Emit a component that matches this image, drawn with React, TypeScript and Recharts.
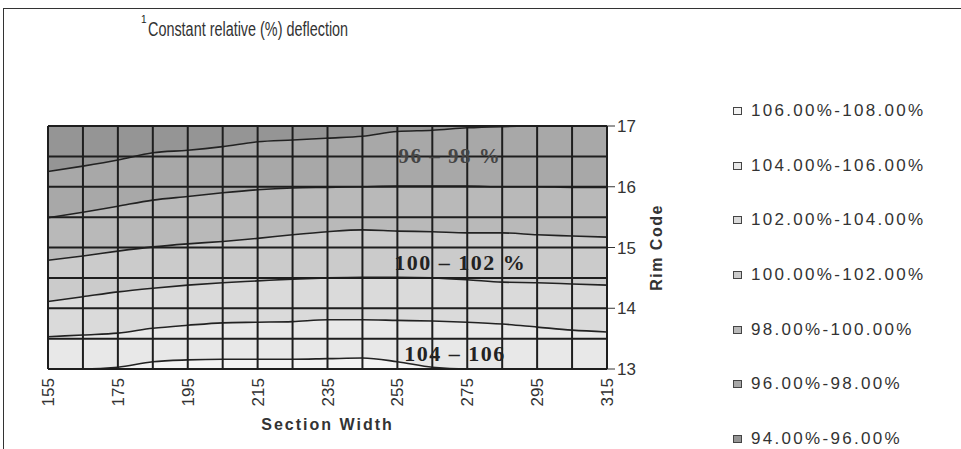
import React from "react";
import { ComposedChart, Area, Line, XAxis, YAxis, CartesianGrid, ReferenceDot, Legend } from "recharts";

// section width (x) and the contour lines of relative deflection (rim code value at each width)
const sectionWidth = [155, 165, 175, 185, 195, 205, 215, 225, 235, 245, 255, 265, 275, 285, 295, 305, 315];
const c96 = [16.25, 16.34, 16.44, 16.56, 16.6, 16.66, 16.74, 16.77, 16.8, 16.83, 16.91, 16.93, 16.97, 16.99, 17, 17, 17];
const c98 = [15.49, 15.58, 15.68, 15.78, 15.84, 15.9, 15.95, 15.98, 15.99, 16.0, 16.01, 16.01, 16.01, 16.0, 16.0, 15.99, 15.99];
const c100 = [14.79, 14.86, 14.94, 15.01, 15.06, 15.1, 15.15, 15.21, 15.26, 15.29, 15.27, 15.26, 15.24, 15.24, 15.21, 15.19, 15.17];
const c102 = [14.11, 14.19, 14.27, 14.33, 14.38, 14.42, 14.45, 14.48, 14.5, 14.51, 14.51, 14.5, 14.47, 14.43, 14.42, 14.4, 14.38];
const c104 = [13.53, 13.56, 13.59, 13.67, 13.72, 13.76, 13.77, 13.78, 13.81, 13.81, 13.8, 13.79, 13.77, 13.74, 13.69, 13.64, 13.61];
const c106 = [13.0, 13.0, 13.03, 13.12, 13.15, 13.16, 13.16, 13.16, 13.17, 13.18, 13.12, 13.03, 13.0, 13.0, 13.0, 13.0, 13.0];

const widthTicks = [155, 175, 195, 215, 235, 255, 275, 295, 315];
const rimTicks = [13, 14, 15, 16, 17];
const rimGrid = [13, 13.5, 14, 14.5, 15, 15.5, 16, 16.5, 17];

// legend order, top to bottom
const bandNames = ["106.00%-108.00%", "104.00%-106.00%", "102.00%-104.00%", "100.00%-102.00%", "98.00%-100.00%", "96.00%-98.00%", "94.00%-96.00%"];
const bandColors = ["#f3f3f3", "#e8e8e8", "#dadada", "#cbcbcb", "#b9b9b9", "#a8a8a8", "#959595"];

const data = sectionWidth.map((w, i) => ({
  w,
  c96: c96[i],
  c98: c98[i],
  c100: c100[i],
  c102: c102[i],
  c104: c104[i],
  c106: c106[i],
}));

// each band is a range area between two contours (bottom band first)
const bandRanges: ((d: any) => number[])[] = [
  (d) => [13, d.c106],
  (d) => [d.c106, d.c104],
  (d) => [d.c104, d.c102],
  (d) => [d.c102, d.c100],
  (d) => [d.c100, d.c98],
  (d) => [d.c98, d.c96],
  (d) => [d.c96, 17],
];

const contourKeys = ["c96", "c98", "c100", "c102", "c104", "c106"];

const sans = "'Liberation Sans', Arial, sans-serif";
const serif = "'Liberation Serif', 'Times New Roman', serif";

function WidthTick(props: any) {
  const { x, y, payload } = props;
  return (
    <text x={x} y={y} transform={`rotate(-90 ${x} ${y})`} textAnchor="end" dy="0.36em" fontSize={17} fill="#333" fontFamily={sans}>
      {payload.value}
    </text>
  );
}

function BandLegend() {
  return (
    <div style={{ fontFamily: sans }}>
      {bandNames.map((n, i) => (
        <div key={n} style={{ height: 54.6, display: "flex", alignItems: "center" }}>
          <span style={{ display: "inline-block", width: 7, height: 6, border: "1.5px solid #444", background: bandColors[i], marginRight: 9 }} />
          <span style={{ fontSize: 17, letterSpacing: 2.3, color: "#333" }}>{n}</span>
        </div>
      ))}
    </div>
  );
}

export default function App() {
  return (
    <div style={{ position: "absolute", left: 0, top: 0, width: 961, height: 449, background: "#fff", overflow: "hidden" }}>
      <div style={{ position: "absolute", left: 3, top: 8, width: 970, height: 460, borderTop: "1.5px solid #333", borderLeft: "1.5px solid #333" }} />
      <span style={{ position: "absolute", left: 141, top: 14, fontSize: 10, fontFamily: sans, color: "#222" }}>1</span>
      <div style={{ position: "absolute", left: 148, top: 19, fontSize: 20, lineHeight: "21px", fontFamily: sans, color: "#333", transform: "scaleX(0.72)", transformOrigin: "left", whiteSpace: "nowrap" }}>
        Constant relative (%) deflection
      </div>
      <ComposedChart width={961} height={449} data={data} margin={{ top: 126, left: 48, right: 294, bottom: 20 }}>
        {bandRanges.map((fn, i) => (
          <Area
            key={i}
            type="monotone"
            dataKey={fn}
            name={bandNames[6 - i]}
            fill={bandColors[i]}
            fillOpacity={1}
            stroke="none"
            isAnimationActive={false}
          />
        ))}
        {contourKeys.map((k) => (
          <Line key={k} type="monotone" dataKey={k} stroke="#222" strokeWidth={1.6} dot={false} isAnimationActive={false} legendType="none" />
        ))}
        <CartesianGrid verticalValues={sectionWidth} horizontalValues={rimGrid} stroke="#1e1e1e" strokeWidth={2} zIndex={1000} />
        <XAxis
          dataKey="w"
          type="number"
          domain={[155, 315]}
          ticks={widthTicks}
          interval={0}
          height={60}
          tickLine={false}
          axisLine={false}
          tickSize={0}
          tickMargin={9}
          tick={<WidthTick />}
          label={({ viewBox }: any) => {
            const vb = viewBox || { x: 48, y: 369, width: 559 };
            return (
              <text x={vb.x + vb.width / 2} y={vb.y + 61} textAnchor="middle" fontSize={16} fontWeight="bold" letterSpacing={2} fill="#333" fontFamily={sans}>
                Section Width
              </text>
            );
          }}
        />
        <YAxis
          orientation="right"
          type="number"
          domain={[13, 17]}
          ticks={rimTicks}
          width={60}
          tickSize={8}
          tickMargin={2}
          tickLine={{ stroke: "#333" }}
          axisLine={{ stroke: "#222", strokeWidth: 2 }}
          tick={{ fontSize: 17, fill: "#333", fontFamily: sans }}
          label={({ viewBox }: any) => {
            const vb = viewBox || { x: 607, y: 126, width: 60, height: 243 };
            const cx = vb.x + 49;
            const cy = vb.y + vb.height / 2;
            return (
              <text x={cx} y={cy} transform={`rotate(-90 ${cx} ${cy})`} textAnchor="middle" dy="0.35em" fontSize={16} fontWeight="bold" letterSpacing={1.5} fill="#333" fontFamily={sans}>
                Rim Code
              </text>
            );
          }}
        />
        <ReferenceDot x={270} y={16.52} r={0} fill="none" stroke="none"
          label={{ value: "96 – 98 %", position: "center", fontSize: 21, fontWeight: "bold", fill: "#444", fontFamily: serif, letterSpacing: 1.5 }} />
        <ReferenceDot x={273} y={14.75} r={0} fill="none" stroke="none"
          label={{ value: "100 – 102 %", position: "center", fontSize: 22, fontWeight: "bold", fill: "#222", fontFamily: serif, letterSpacing: 1.5 }} />
        <ReferenceDot x={271.5} y={13.26} r={0} fill="none" stroke="none"
          label={{ value: "104 – 106", position: "center", fontSize: 22, fontWeight: "bold", fill: "#222", fontFamily: serif, letterSpacing: 1.5 }} />
        <Legend
          layout="horizontal"
          verticalAlign="middle"
          align="center"
          content={() => <BandLegend />}
          wrapperStyle={{ position: "absolute", left: 733, top: 84, width: 228, height: 382 }}
        />
      </ComposedChart>
    </div>
  );
}
